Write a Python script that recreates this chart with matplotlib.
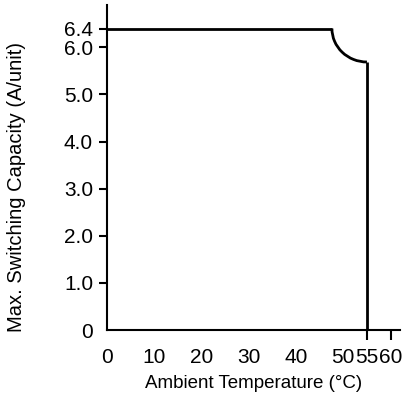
#Switching capacity derating curve

import matplotlib
matplotlib.use('Agg')
import matplotlib.pyplot as plt
from matplotlib.patches import Arc

plt.rcParams['font.family'] = ['Liberation Sans', 'DejaVu Sans']

# data
flat_temp = [0, 47.6]          # flat part of the curve (°C)
flat_cap = [6.4, 6.4]          # A/unit
knee_end = (55, 5.69)          # where the rounded knee ends
cutoff_temp = [55, 55]         # vertical drop at cut-off
cutoff_cap = [5.69, 0]

xticks = [0, 10, 20, 30, 40, 50, 55, 60]
xtick_labels = ['0', '10', '20', '30', '40', '50', '55', '60']
marked_xticks = [55, 60]       # only these have tick marks
yticks = [0, 1, 2, 3, 4, 5, 6, 6.4]
ytick_labels = ['0', '1.0', '2.0', '3.0', '4.0', '5.0', '6.0', '6.4']

fig = plt.figure(figsize=(4.04, 4.04), dpi=100)
ax = fig.add_axes([107/404, 74/404, 293/404, 325/404])

ax.plot(flat_temp, flat_cap, color='black', lw=2, solid_capstyle='butt')
# rounded knee: quarter ellipse centred on the top-right corner
ax.add_patch(Arc((knee_end[0], flat_cap[1]),
                 2*(knee_end[0]-flat_temp[1]), 2*(flat_cap[1]-knee_end[1]),
                 theta1=180, theta2=270, color='black', lw=2))
ax.plot(cutoff_temp, cutoff_cap, color='black', lw=2, solid_capstyle='butt')

ax.set_xlim(0, 62)
ax.set_ylim(0, 6.9)

ax.spines['top'].set_visible(False)
ax.spines['right'].set_visible(False)
ax.spines['left'].set_linewidth(1.5)
ax.spines['bottom'].set_linewidth(1.5)

ax.set_xticks(xticks)
ax.set_xticklabels(xtick_labels)
ax.set_yticks(yticks)
ax.set_yticklabels(ytick_labels)
ax.tick_params(axis='x', length=7, width=1.5, pad=6, labelsize=15)
ax.tick_params(axis='y', length=6, width=1.5, pad=4, labelsize=15)

for val, t in zip(xticks, ax.xaxis.get_major_ticks()):
    if val not in marked_xticks:
        t.tick1line.set_visible(False)
ax.yaxis.get_major_ticks()[0].tick1line.set_visible(False)

ax.set_xlabel('Ambient Temperature (°C)', fontsize=13.5, labelpad=6)
ax.set_ylabel('Max. Switching Capacity (A/unit)', fontsize=14.5)
ax.yaxis.set_label_coords(-0.276, 0.44)

plt.savefig('out.png', dpi=100)
